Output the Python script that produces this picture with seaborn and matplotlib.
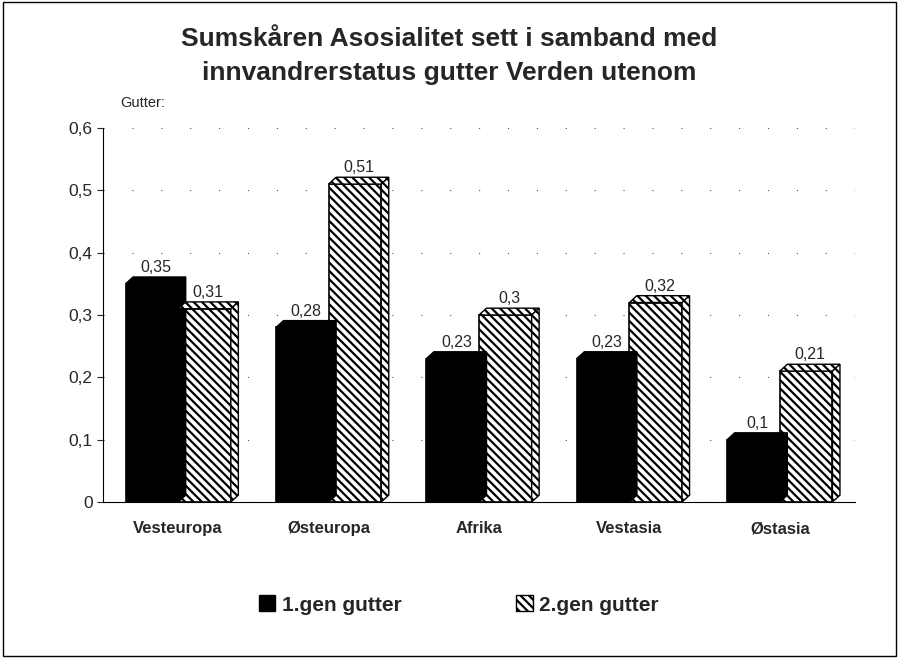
import pandas as pd
import matplotlib.pyplot as plt
import seaborn as sns
from matplotlib.patches import Polygon, Rectangle, Patch
from matplotlib.ticker import FuncFormatter

# Data
regions = ['Vesteuropa', 'Østeuropa', 'Afrika', 'Vestasia', 'Østasia']
gen1 = [0.35, 0.28, 0.23, 0.23, 0.10]
gen2 = [0.31, 0.51, 0.30, 0.32, 0.21]
series = ['1.gen gutter', '2.gen gutter']
value_labels = [['0,35', '0,28', '0,23', '0,23', '0,1'],
                ['0,31', '0,51', '0,3', '0,32', '0,21']]

df = pd.DataFrame({
    'Region': regions * 2,
    'Verdi': gen1 + gen2,
    'Gruppe': [series[0]] * 5 + [series[1]] * 5,
})

sns.set_style('white')
plt.rcParams['font.family'] = ['Liberation Sans', 'DejaVu Sans']
plt.rcParams['hatch.linewidth'] = 1.6

fig = plt.figure(figsize=(8.99, 6.58), dpi=100)
ax = fig.add_axes([103 / 899, 1 - 502 / 658, (855 - 103) / 899, (502 - 128) / 658])

sns.barplot(data=df, x='Region', y='Verdi', hue='Gruppe', order=regions,
            hue_order=series, palette=['black', 'white'], width=0.7,
            edgecolor='black', linewidth=1.2, legend=False, ax=ax)

# hatch the second series
bars = [p for p in ax.patches if isinstance(p, Rectangle)]
for p in bars[5:]:
    p.set_hatch('\\\\\\\\')

# fake 3D depth: top and side faces derived from each bar
dx, dy = 0.05, 0.011
for i, p in enumerate(bars):
    x, y, w, h = p.get_x(), p.get_y(), p.get_width(), p.get_height()
    fc = 'black' if i < 5 else 'white'
    hatch = None if i < 5 else '\\\\\\\\'
    top = Polygon([(x, h), (x + dx, h + dy), (x + w + dx, h + dy), (x + w, h)],
                  closed=True, facecolor=fc, edgecolor='black', lw=1, hatch=hatch,
                  zorder=p.get_zorder())
    side = Polygon([(x + w, 0), (x + w + dx, dy), (x + w + dx, h + dy), (x + w, h)],
                   closed=True, facecolor=fc, edgecolor='black', lw=1, hatch=hatch,
                   zorder=p.get_zorder())
    ax.add_patch(top)
    ax.add_patch(side)

# value labels
for i, p in enumerate(bars):
    lab = value_labels[i // 5][i % 5]
    ax.text(p.get_x() + p.get_width() / 2 + dx / 2, p.get_height() + dy + 0.003, lab,
            ha='center', va='bottom', fontsize=11.5)

ax.set_ylim(0, 0.6)
ax.set_xlim(-0.5, 4.5)
ax.set_yticks([0, 0.1, 0.2, 0.3, 0.4, 0.5, 0.6])
ax.yaxis.set_major_formatter(FuncFormatter(lambda v, _: ('%g' % round(v, 2)).replace('.', ',')))
ax.tick_params(axis='y', labelsize=12.5, length=4, left=True, direction='out')
ax.tick_params(axis='x', labelsize=12, length=0, pad=14)
for t in ax.get_xticklabels():
    t.set_fontweight('bold')
ax.set_xlabel('')
ax.set_ylabel('')
ax.yaxis.grid(True, color='#555555', linestyle=(0, (1, 25)), linewidth=0.8)
ax.set_axisbelow(True)
for s in ['top', 'right']:
    ax.spines[s].set_visible(False)
ax.spines['left'].set_color('black')
ax.spines['bottom'].set_color('black')

fig.text(0.5, 1 - 56 / 658, 'Sumskåren Asosialitet sett i samband med\ninnvandrerstatus gutter Verden utenom',
         ha='center', va='center', fontsize=19, fontweight='bold', linespacing=1.5)
fig.text(120 / 899, 1 - 103 / 658, 'Gutter:', ha='left', va='center', fontsize=10.5)

# legend below the plot
handles = [Patch(facecolor='black', edgecolor='black'),
           Patch(facecolor='white', edgecolor='black', hatch='\\\\\\\\')]
fig.legend(handles, series, loc='center', bbox_to_anchor=(0.51, 1 - 605 / 658), ncol=2,
           frameon=False, prop={'weight': 'bold', 'size': 15}, handlelength=0.8,
           handleheight=0.8, handletextpad=0.3, columnspacing=5.5)

# frame around the whole figure
fig.patches.append(Rectangle((0.003, 0.003), 0.994, 0.994, transform=fig.transFigure,
                             fill=False, edgecolor='black', linewidth=1))

fig.savefig('out.png', dpi=100)
